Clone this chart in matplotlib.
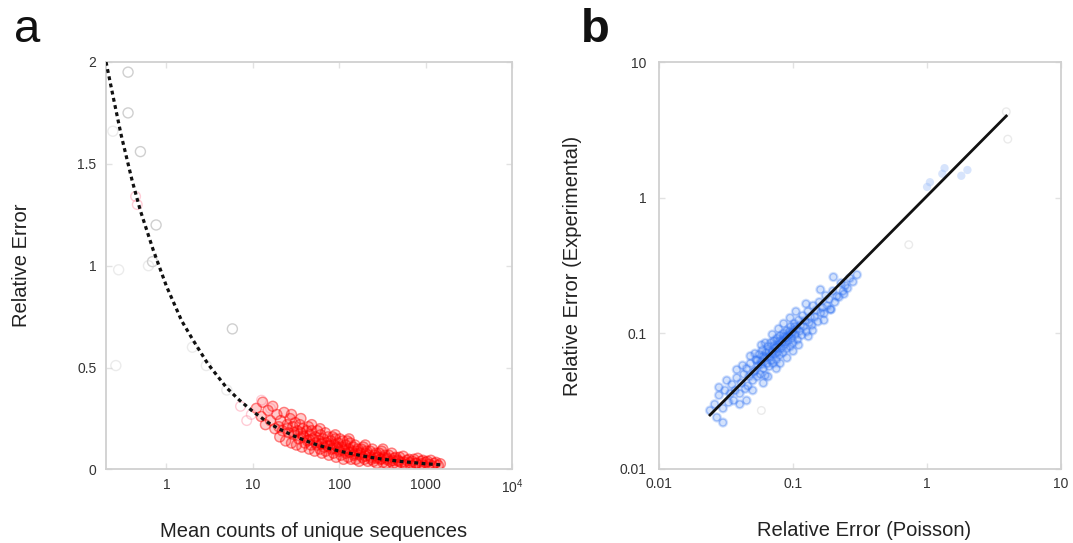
import matplotlib
matplotlib.use("Agg")
import matplotlib.pyplot as plt
from matplotlib.ticker import FixedLocator, NullLocator, FixedFormatter

plt.rcParams['font.family'] = ['Liberation Sans', 'DejaVu Sans']
plt.rcParams['mathtext.fontset'] = 'custom'
plt.rcParams['mathtext.rm'] = 'Liberation Sans'

# ---------------- panel a: relative error vs mean counts ----------------
# Poisson expectation curve (dashed)
curve_mean = [0.2, 0.25, 0.3, 0.4, 0.5, 0.7, 1, 1.5, 2, 3, 5, 7, 10, 15, 20,
              30, 50, 70, 100, 200, 300, 500, 1000, 1500]
curve_err = [2.0, 1.8, 1.64, 1.42, 1.27, 1.08, 0.9, 0.73, 0.64, 0.52, 0.40,
             0.34, 0.285, 0.23, 0.20, 0.164, 0.127, 0.108, 0.09, 0.064,
             0.052, 0.040, 0.028, 0.023]

# low-count sequences (grey circles)
grey_mean = [0.36, 0.36, 0.5, 0.76, 0.69, 5.8]
grey_err = [1.95, 1.75, 1.56, 1.20, 1.02, 0.69]
faint_mean = [0.24, 0.28, 0.26, 2.0, 2.9, 5.0, 0.62]
faint_err = [1.66, 0.98, 0.51, 0.60, 0.51, 0.39, 1.00]

# pinkish sparse points at moderate counts
pink_mean = [0.44, 0.46, 7.2, 9.6, 12.6, 8.5, 16]
pink_err = [1.34, 1.30, 0.31, 0.27, 0.34, 0.24, 0.30]

# main cloud of sequences
red_mean = [
    11, 12.5, 13, 14, 15, 16, 17, 18,
    19, 20, 20.5, 21, 22, 23, 24, 25,
    26, 27, 28, 29, 30, 31, 32, 33,
    34, 35, 36, 37, 38, 39, 40, 42,
    43, 44, 45, 46, 47, 48, 50, 52,
    53, 55, 56, 58, 60, 61, 63, 64,
    65, 67, 69, 70, 72, 74, 76, 78,
    80, 82, 84, 86, 88, 90, 92, 95,
    97, 100, 102, 105, 107, 110, 112, 115,
    118, 120, 124, 127, 130, 134, 137, 140,
    145, 148, 152, 156, 160, 165, 170, 175,
    180, 185, 190, 196, 202, 208, 214, 220,
    228, 235, 242, 250, 258, 266, 273, 280,
    290, 300, 310, 320, 330, 340, 350, 360,
    375, 390, 405, 420, 435, 450, 465, 480,
    500, 520, 550, 580, 610, 640, 670, 700,
    730, 770, 810, 850, 890, 930, 970, 1000,
    1050, 1100, 1150, 1200, 1260, 1320, 1400, 1480,
    25, 30, 38, 45, 54, 62, 73, 85,
    99, 115, 132, 150, 172, 200, 235, 270,
    310, 360, 420, 490, 570, 660, 780, 900,
    28, 36, 48, 60, 90, 130, 200, 320,
]
red_err = [
    0.30, 0.26, 0.33, 0.22, 0.29, 0.24, 0.31, 0.20,
    0.27, 0.21, 0.16, 0.24, 0.19, 0.28, 0.14, 0.22,
    0.18, 0.25, 0.13, 0.21, 0.17, 0.23, 0.12, 0.19,
    0.15, 0.22, 0.18, 0.11, 0.20, 0.16, 0.13, 0.19,
    0.14, 0.21, 0.10, 0.17, 0.12, 0.19, 0.15, 0.09,
    0.16, 0.12, 0.19, 0.14, 0.10, 0.17, 0.08, 0.13,
    0.15, 0.11, 0.18, 0.09, 0.13, 0.16, 0.07, 0.12,
    0.14, 0.10, 0.16, 0.08, 0.12, 0.15, 0.06, 0.11,
    0.13, 0.09, 0.15, 0.07, 0.11, 0.14, 0.05, 0.10,
    0.12, 0.08, 0.14, 0.06, 0.10, 0.13, 0.05, 0.09,
    0.11, 0.07, 0.12, 0.05, 0.09, 0.10, 0.04, 0.08,
    0.10, 0.06, 0.11, 0.05, 0.08, 0.09, 0.04, 0.07,
    0.09, 0.05, 0.10, 0.04, 0.07, 0.08, 0.03, 0.06,
    0.08, 0.05, 0.09, 0.035, 0.06, 0.07, 0.03, 0.055,
    0.07, 0.04, 0.08, 0.03, 0.055, 0.06, 0.025, 0.045,
    0.06, 0.035, 0.065, 0.025, 0.045, 0.05, 0.02, 0.04,
    0.05, 0.03, 0.055, 0.02, 0.04, 0.045, 0.018, 0.035,
    0.04, 0.025, 0.045, 0.018, 0.03, 0.035, 0.02, 0.028,
    0.20, 0.18, 0.165, 0.145, 0.13, 0.125, 0.115, 0.105,
    0.098, 0.09, 0.085, 0.078, 0.072, 0.066, 0.06, 0.055,
    0.052, 0.048, 0.044, 0.04, 0.036, 0.033, 0.03, 0.028,
    0.27, 0.25, 0.22, 0.20, 0.17, 0.15, 0.12, 0.10,
]

a_xticks = [1, 10, 100, 1000, 10000]
a_xticklabels = ['1', '10', '100', '1000', '10$^4$']
a_yticks = [0, 0.5, 1, 1.5, 2]
a_yticklabels = ['0', '0.5', '1', '1.5', '2']

# ---------------- panel b: experimental vs Poisson relative error ----------------
blue_poisson = [
    0.024, 0.026, 0.027, 0.028, 0.030, 0.031, 0.033, 0.034,
    0.035, 0.036, 0.037, 0.038, 0.040, 0.041, 0.043, 0.044,
    0.045, 0.046, 0.047, 0.048, 0.050, 0.051, 0.053, 0.054,
    0.055, 0.056, 0.057, 0.058, 0.059, 0.060, 0.061, 0.062,
    0.063, 0.064, 0.065, 0.066, 0.067, 0.068, 0.069, 0.070,
    0.071, 0.072, 0.073, 0.074, 0.075, 0.076, 0.077, 0.078,
    0.079, 0.080, 0.082, 0.083, 0.084, 0.085, 0.087, 0.088,
    0.089, 0.090, 0.092, 0.093, 0.095, 0.096, 0.098, 0.099,
    0.100, 0.102, 0.104, 0.106, 0.108, 0.110, 0.112, 0.114,
    0.116, 0.118, 0.120, 0.123, 0.126, 0.129, 0.132, 0.135,
    0.138, 0.141, 0.145, 0.149, 0.153, 0.157, 0.161, 0.166,
    0.170, 0.175, 0.180, 0.186, 0.192, 0.198, 0.205, 0.212,
    0.220, 0.228, 0.236, 0.245, 0.255, 0.265, 0.280, 0.300,
    0.030, 0.040, 0.050, 0.065, 0.080, 0.100, 0.130, 0.170,
    0.032, 0.042, 0.052, 0.062, 0.078, 0.095, 0.125, 0.160,
    0.052, 0.058, 0.064, 0.070, 0.076, 0.083, 0.090, 0.097,
    0.054, 0.060, 0.066, 0.072, 0.079, 0.086, 0.094, 0.103,
    0.045, 0.060, 0.075, 0.090, 0.110, 0.140, 0.190, 0.240,
    0.028, 0.038, 0.048, 0.058, 0.070, 0.085, 0.105, 0.200,
]
blue_experimental = [
    0.027, 0.030, 0.024, 0.035, 0.028, 0.038, 0.031, 0.036,
    0.042, 0.032, 0.038, 0.047, 0.036, 0.043, 0.050, 0.039,
    0.055, 0.041, 0.048, 0.060, 0.045, 0.052, 0.064, 0.048,
    0.058, 0.070, 0.050, 0.062, 0.075, 0.055, 0.066, 0.049,
    0.072, 0.060, 0.080, 0.057, 0.068, 0.085, 0.063, 0.074,
    0.060, 0.088, 0.070, 0.078, 0.064, 0.092, 0.073, 0.083,
    0.069, 0.096, 0.078, 0.088, 0.072, 0.100, 0.083, 0.092,
    0.077, 0.105, 0.088, 0.097, 0.080, 0.112, 0.092, 0.102,
    0.085, 0.118, 0.098, 0.108, 0.090, 0.125, 0.104, 0.115,
    0.097, 0.135, 0.112, 0.124, 0.103, 0.145, 0.120, 0.132,
    0.115, 0.160, 0.132, 0.148, 0.122, 0.170, 0.142, 0.155,
    0.140, 0.190, 0.160, 0.178, 0.150, 0.205, 0.170, 0.188,
    0.185, 0.235, 0.205, 0.225, 0.215, 0.255, 0.240, 0.270,
    0.022, 0.030, 0.038, 0.048, 0.060, 0.074, 0.095, 0.125,
    0.045, 0.058, 0.071, 0.085, 0.108, 0.130, 0.165, 0.210,
    0.053, 0.059, 0.066, 0.072, 0.079, 0.086, 0.094, 0.099,
    0.063, 0.068, 0.074, 0.081, 0.088, 0.095, 0.103, 0.112,
    0.032, 0.043, 0.055, 0.066, 0.082, 0.105, 0.150, 0.195,
    0.040, 0.054, 0.068, 0.082, 0.098, 0.118, 0.145, 0.260,
]
# sparse high-error sequences
high_poisson = [1.0, 1.05, 1.3, 1.35, 1.8, 2.0]
high_experimental = [1.2, 1.3, 1.5, 1.65, 1.45, 1.6]
stray_poisson = [3.9, 4.0, 0.73, 0.058]
stray_experimental = [4.3, 2.7, 0.45, 0.027]

# identity-like reference line
line_poisson = [0.024, 3.9]
line_experimental = [0.025, 4.0]

b_ticks = [0.01, 0.1, 1, 10]
b_ticklabels = ['0.01', '0.1', '1', '10']

# ---------------- figure ----------------
fig = plt.figure(figsize=(10.73, 5.43), dpi=100)
axa = fig.add_axes([0.0988, 0.1354, 0.3784, 0.7505])
axb = fig.add_axes([0.6142, 0.1363, 0.3747, 0.7495])

spine_col = '#d0d0d0'
label_col = '#333333'
text_col = '#222222'


def style_axes(ax):
    for s in ax.spines.values():
        s.set_color(spine_col)
        s.set_linewidth(1.3)
    ax.tick_params(which='both', direction='in', length=4, width=1,
                   color='#e2e2e2', labelcolor=label_col, labelsize=10,
                   top=True, right=True)
    ax.xaxis.set_minor_locator(NullLocator())
    ax.yaxis.set_minor_locator(NullLocator())


# panel a
axa.set_xscale('log')
axa.set_xlim(0.2, 1e4)
axa.set_ylim(0, 2)
# soft fill under the open circles so the dense core reads as solid
axa.scatter(red_mean, red_err, s=70, color='#ff1a1a', edgecolors='none',
            alpha=0.22, zorder=2)
axa.scatter(red_mean, red_err, s=50, facecolors='none', edgecolors='#ff0000',
            linewidths=1.0, alpha=0.4, zorder=2)
axa.scatter(pink_mean, pink_err, s=48, facecolors='none', edgecolors='#ff6f8a',
            linewidths=1.0, alpha=0.35, zorder=2)
axa.scatter(grey_mean, grey_err, s=52, facecolors='none', edgecolors='#c4c4c4',
            linewidths=1.0, alpha=0.8, zorder=2)
axa.scatter(faint_mean, faint_err, s=52, facecolors='none', edgecolors='#d4d4d4',
            linewidths=1.0, alpha=0.45, zorder=2)
axa.plot(curve_mean, curve_err, color='#111111', lw=2.3,
         linestyle=(0, (1.2, 1.1)), zorder=3)
axa.xaxis.set_major_locator(FixedLocator(a_xticks))
axa.xaxis.set_major_formatter(FixedFormatter(a_xticklabels))
axa.set_yticks(a_yticks)
axa.set_yticklabels(a_yticklabels)
style_axes(axa)
axa.tick_params(axis='x', pad=6)
axa.tick_params(axis='y', pad=7)
axa.set_ylabel('Relative Error', fontsize=14.5, color=text_col)
axa.set_xlabel('Mean counts of unique sequences', fontsize=14.5,
               color=text_col)
axa.yaxis.set_label_coords(-0.184, 0.5)
axa.xaxis.set_label_coords(0.51, -0.128)

# panel b
axb.set_xscale('log')
axb.set_yscale('log')
axb.set_xlim(0.01, 10)
axb.set_ylim(0.01, 10)
axb.scatter(blue_poisson, blue_experimental, s=55, color='#3a7bf5',
            edgecolors='none', alpha=0.22, zorder=2)
axb.scatter(blue_poisson, blue_experimental, s=24, facecolors='none',
            edgecolors='#2f6ff2', linewidths=1.0, alpha=0.35, zorder=2)
axb.scatter(high_poisson, high_experimental, s=36, color='#8fb4f7',
            edgecolors='none', alpha=0.35, zorder=2)
axb.scatter(stray_poisson, stray_experimental, s=30, facecolors='none',
            edgecolors='#cccccc', linewidths=1.0, alpha=0.4, zorder=2)
axb.plot(line_poisson, line_experimental, color='#111111', lw=2.0, zorder=3)
axb.xaxis.set_major_locator(FixedLocator(b_ticks))
axb.xaxis.set_major_formatter(FixedFormatter(b_ticklabels))
axb.yaxis.set_major_locator(FixedLocator(b_ticks))
axb.yaxis.set_major_formatter(FixedFormatter(b_ticklabels))
style_axes(axb)
axb.tick_params(axis='x', pad=6)
axb.tick_params(axis='y', pad=9)
axb.set_ylabel('Relative Error (Experimental)', fontsize=14.5, color=text_col)
axb.set_xlabel('Relative Error (Poisson)', fontsize=14.5, color=text_col)
axb.yaxis.set_label_coords(-0.192, 0.5)
axb.xaxis.set_label_coords(0.51, -0.128)

# panel letters
fig.text(0.013, 0.922, 'a', fontsize=34, color='#111111', ha='left',
         va='baseline')
fig.text(0.541, 0.922, 'b', fontsize=34, fontweight='bold', color='#111111',
         ha='left', va='baseline')

fig.savefig('out.png', dpi=100, facecolor='white')
